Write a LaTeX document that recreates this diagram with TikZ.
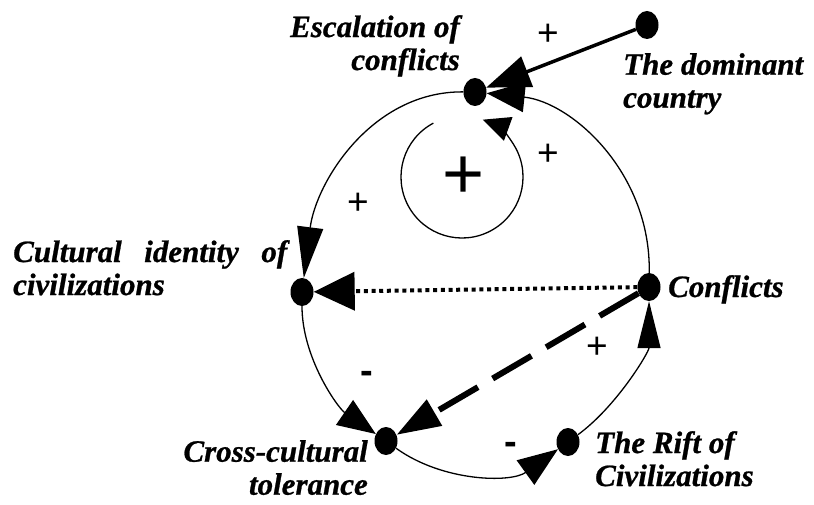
\documentclass[tikz,border=0pt]{standalone}
\usepackage{fontspec}
\setmainfont{Liberation Serif}[BoldItalicFeatures={FakeBold=0.8}]
\setsansfont{Liberation Sans}
\usetikzlibrary{arrows.meta,shapes.geometric}
\begin{document}
\begin{tikzpicture}[x=1pt,y=1pt,
  dot/.style={ellipse,fill=black,inner sep=0pt,minimum width=23pt,minimum height=28pt},
  lbl/.style={font=\fontsize{31}{33}\selectfont\bfseries\itshape,inner sep=0pt},
  sgn/.style={font=\sffamily\fontsize{37}{37}\selectfont,inner sep=0pt},
  minus/.style={font=\sffamily\bfseries\fontsize{38}{38}\selectfont,inner sep=0pt},
  bigsgn/.style={font=\sffamily\fontsize{72}{72}\selectfont,inner sep=0pt},
  ring/.style={line width=1.3pt},
]
\useasboundingbox (0,0) rectangle (814,504);
% dots
\node[dot] (esc) at (475,412) {};
\node[dot] (dom) at (647,479) {};
\node[dot] (cul) at (302,212) {};
\node[dot] (con) at (649,217) {};
\node[dot] (cro) at (386,63) {};
\node[dot] (rif) at (568,62) {};
% labels
\node[lbl,anchor=north east,align=right] (tesc) at (460,489) {Escalation of\\conflicts};
\node[lbl,anchor=north west,align=left] (tdom) at (623,451) {The dominant\\country};
\node[lbl,anchor=north west,align=left] (tcul) at (13,264) {\makebox[274pt][s]{Cultural identity of}\\civilizations};
\node[lbl,anchor=base west] (tcon) at (668,207) {Conflicts};
\node[lbl,anchor=north east,align=right] (tcro) at (368,64) {Cross-cultural\\tolerance};
\node[lbl,anchor=north west,align=left] (trif) at (595,73) {The Rift of\\Civilizations};
% signs
\node[sgn] (s1) at (548,469) {+};
\node[sgn] (s2) at (548,349) {+};
\node[sgn] (s3) at (358,300) {+};
\node[bigsgn] (s4) at (464,326) {+};
\node[sgn] (s5) at (597,156) {+};
\node[minus] (s6) at (367,127) {-};
\node[minus] (s7) at (511,56) {-};
% ring connectors (elliptic Bezier arcs)
\draw[ring,-{Triangle[length=51pt,width=26pt]}] (esc) .. controls (372,413) and (316,322) .. (cul);
\draw[ring,-{Triangle[length=38pt,width=30pt]}] (cul) .. controls (302,146) and (338,96) .. (cro);
\draw[ring,-{Triangle[length=40pt,width=30pt]}] (cro) .. controls (443,22) and (511,21) .. (rif);
\draw[ring,-{Triangle[length=47pt,width=23pt]}] (rif) .. controls (617,98) and (649,152) .. (con);
\draw[ring,-{Triangle[length=38pt,width=30pt]}] (con) .. controls (651,332) and (571,402) .. (esc);
% straight connectors
\draw[line width=3.5pt,-{Triangle[length=44pt,width=32pt]}] (dom) -- (esc);
\draw[line width=4pt,dash pattern=on 4pt off 3.7pt,-{Triangle[length=41pt,width=38pt]}] (con) -- (cul);
\draw[line width=6pt,dash pattern=on 45pt off 17pt,-{Triangle[length=44pt,width=29pt]}] (con) -- (cro);
% small loop
\coordinate (lc) at (462,327);
\draw[ring,-{Triangle[length=27pt,width=25pt]}] ([shift={(118:61pt)}]lc) arc[start angle=118,end angle=430,radius=61pt];
\end{tikzpicture}
\end{document}
